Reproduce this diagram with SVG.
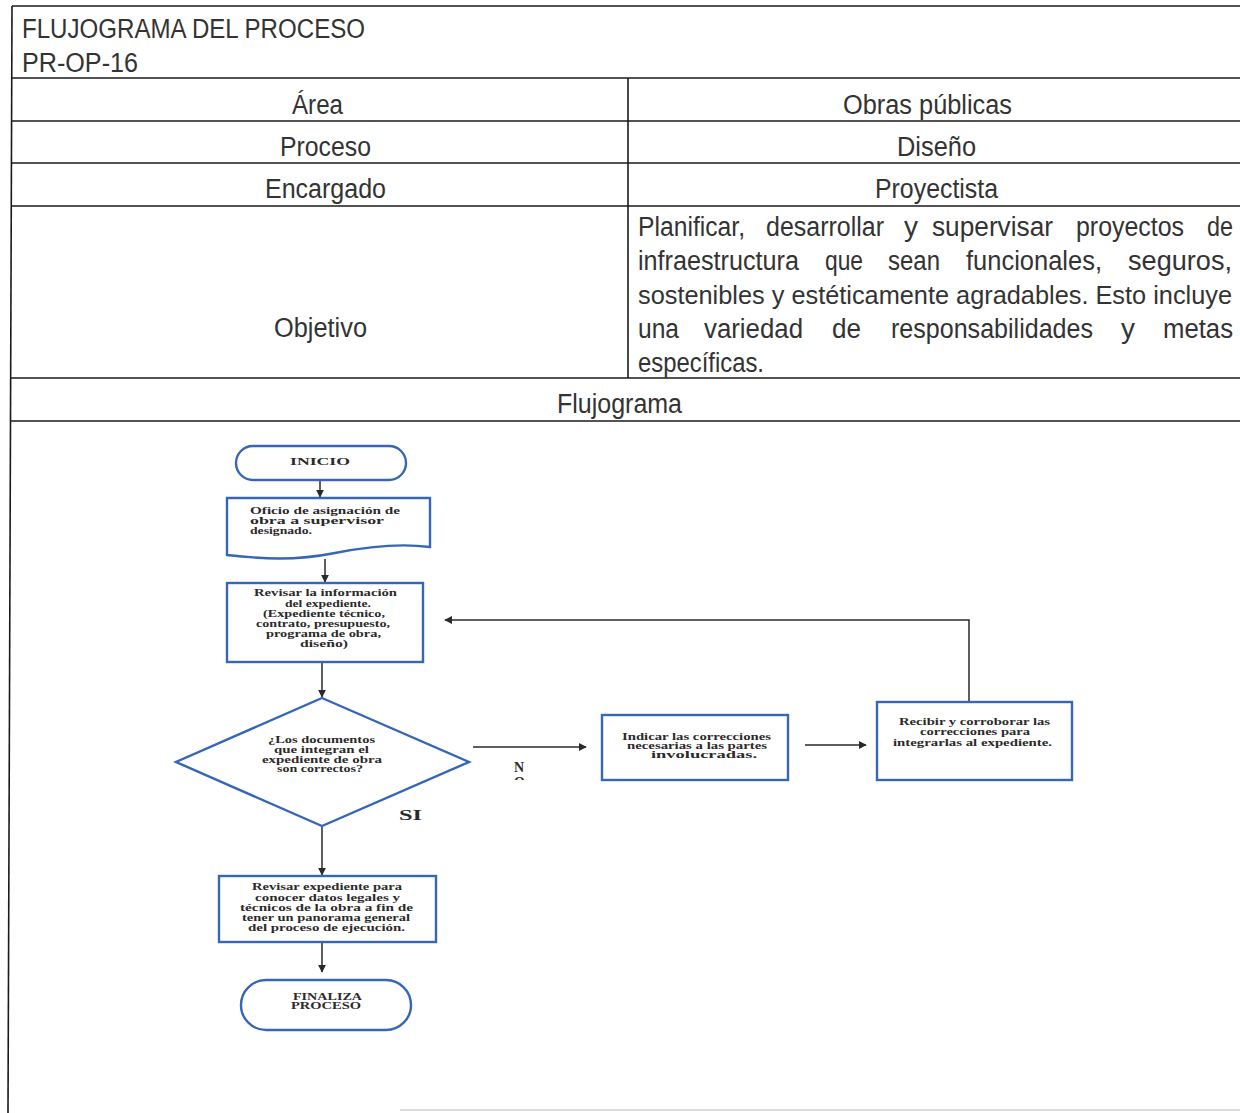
<svg xmlns="http://www.w3.org/2000/svg" width="1240" height="1113" viewBox="0 0 1240 1113">
<defs>
<marker id="ah" viewBox="0 0 10 10" refX="9" refY="5" markerWidth="8" markerHeight="8" markerUnits="userSpaceOnUse" orient="auto">
<path d="M0,0 L10,5 L0,10 Z" fill="#2a2a2a"/>
</marker>
<clipPath id="noclip"><rect x="505" y="755" width="40" height="25"/></clipPath>
</defs>
<style>
.tl{stroke:#1a1a1a;stroke-width:1.6;fill:none}
.tt{font-family:"Liberation Sans",Arial,sans-serif;font-size:27px;fill:#333}
.nd{fill:#fff;stroke:#3566b8;stroke-width:2.4}
.ft{font-family:"Liberation Serif","Times New Roman",serif;font-weight:bold;font-size:9.5px;fill:#2a2a2a}
.lb{font-family:"Liberation Serif","Times New Roman",serif;font-weight:bold;font-size:14px;fill:#2a2a2a}
.cn{stroke:#2a2a2a;stroke-width:1.5;fill:none}
</style>
<rect width="1240" height="1113" fill="#fff"/>
<g id="table">
<line class="tl" x1="12" y1="6" x2="1240" y2="6"/>
<line class="tl" x1="12" y1="6" x2="8" y2="1113"/>
<line class="tl" x1="12" y1="78" x2="1240" y2="78"/>
<line class="tl" x1="12" y1="121" x2="1240" y2="121"/>
<line class="tl" x1="12" y1="163" x2="1240" y2="163"/>
<line class="tl" x1="12" y1="206" x2="1240" y2="206"/>
<line class="tl" x1="11" y1="378" x2="1240" y2="378"/>
<line class="tl" x1="11" y1="421" x2="1240" y2="421"/>
<line class="tl" x1="628" y1="78" x2="628" y2="378"/>
<line x1="400" y1="1110" x2="1240" y2="1110" stroke="#bbb" stroke-width="1.2"/>
<text class="tt" x="22" y="38" textLength="343" lengthAdjust="spacingAndGlyphs">FLUJOGRAMA DEL PROCESO</text>
<text class="tt" x="22" y="72" textLength="116" lengthAdjust="spacingAndGlyphs">PR-OP-16</text>
<text class="tt" x="292" y="114" textLength="51" lengthAdjust="spacingAndGlyphs">Área</text>
<text class="tt" x="843" y="114" textLength="169" lengthAdjust="spacingAndGlyphs">Obras públicas</text>
<text class="tt" x="280" y="156" textLength="91" lengthAdjust="spacingAndGlyphs">Proceso</text>
<text class="tt" x="897" y="156" textLength="79" lengthAdjust="spacingAndGlyphs">Diseño</text>
<text class="tt" x="265" y="198" textLength="121" lengthAdjust="spacingAndGlyphs">Encargado</text>
<text class="tt" x="875" y="198" textLength="123" lengthAdjust="spacingAndGlyphs">Proyectista</text>
<text class="tt" x="274" y="337" textLength="93" lengthAdjust="spacingAndGlyphs">Objetivo</text>
<text class="tt" x="557" y="413" textLength="125" lengthAdjust="spacingAndGlyphs">Flujograma</text>
<text class="tt" x="638" y="236" textLength="107" lengthAdjust="spacingAndGlyphs">Planificar,</text>
<text class="tt" x="766" y="236" textLength="118" lengthAdjust="spacingAndGlyphs">desarrollar</text>
<text class="tt" x="904" y="236" textLength="14" lengthAdjust="spacingAndGlyphs">y</text>
<text class="tt" x="932" y="236" textLength="121" lengthAdjust="spacingAndGlyphs">supervisar</text>
<text class="tt" x="1076" y="236" textLength="108" lengthAdjust="spacingAndGlyphs">proyectos</text>
<text class="tt" x="1207" y="236" textLength="26" lengthAdjust="spacingAndGlyphs">de</text>
<text class="tt" x="638" y="270" textLength="161" lengthAdjust="spacingAndGlyphs">infraestructura</text>
<text class="tt" x="825" y="270" textLength="38" lengthAdjust="spacingAndGlyphs">que</text>
<text class="tt" x="888" y="270" textLength="52" lengthAdjust="spacingAndGlyphs">sean</text>
<text class="tt" x="966" y="270" textLength="136" lengthAdjust="spacingAndGlyphs">funcionales,</text>
<text class="tt" x="1128" y="270" textLength="104" lengthAdjust="spacingAndGlyphs">seguros,</text>
<text class="tt" x="638" y="304" style="font-size:25.3px" textLength="594" lengthAdjust="spacingAndGlyphs">sostenibles y estéticamente agradables. Esto incluye</text>
<text class="tt" x="638" y="338" textLength="41" lengthAdjust="spacingAndGlyphs">una</text>
<text class="tt" x="704" y="338" textLength="99" lengthAdjust="spacingAndGlyphs">variedad</text>
<text class="tt" x="832" y="338" textLength="29" lengthAdjust="spacingAndGlyphs">de</text>
<text class="tt" x="891" y="338" textLength="202" lengthAdjust="spacingAndGlyphs">responsabilidades</text>
<text class="tt" x="1121" y="338" textLength="14" lengthAdjust="spacingAndGlyphs">y</text>
<text class="tt" x="1163" y="338" textLength="70" lengthAdjust="spacingAndGlyphs">metas</text>
<text class="tt" x="638" y="372" textLength="126" lengthAdjust="spacingAndGlyphs">específicas.</text>
</g>
<g id="connectors">
<line class="cn" x1="320" y1="481" x2="320" y2="497" marker-end="url(#ah)"/>
<line class="cn" x1="325" y1="559" x2="325" y2="582" marker-end="url(#ah)"/>
<line class="cn" x1="322" y1="663" x2="322" y2="697" marker-end="url(#ah)"/>
<line class="cn" x1="322" y1="827" x2="322" y2="875" marker-end="url(#ah)"/>
<line class="cn" x1="322" y1="943" x2="322" y2="972" marker-end="url(#ah)"/>
<line class="cn" x1="473" y1="747" x2="586" y2="747" marker-end="url(#ah)"/>
<line class="cn" x1="805" y1="745" x2="866" y2="745" marker-end="url(#ah)"/>
<polyline class="cn" points="969,701 969,620 445,620" marker-end="url(#ah)"/>
<text class="lb" x="399" y="820" textLength="23" lengthAdjust="spacingAndGlyphs">SI</text>
<g clip-path="url(#noclip)">
<text class="lb" x="514" y="772">N</text>
<text class="lb" x="514" y="787">O</text>
</g>
</g>
<g id="n-inicio">
<rect class="nd" x="236" y="446" width="170" height="34" rx="17"/>
<text class="ft" x="290" y="465" textLength="60" lengthAdjust="spacingAndGlyphs">INICIO</text>
</g>
<g id="n-oficio">
<path class="nd" d="M227,498 H430 V547 C400,543 370,546 335,553 C295,561 262,559 227,555 Z"/>
<text class="ft" x="250" y="514" textLength="150" lengthAdjust="spacingAndGlyphs">Oficio de asignación de</text>
<text class="ft" x="250" y="524" textLength="134" lengthAdjust="spacingAndGlyphs">obra a supervisor</text>
<text class="ft" x="250" y="534" textLength="62" lengthAdjust="spacingAndGlyphs">designado.</text>
</g>
<g id="n-revisar">
<rect class="nd" x="227" y="583" width="196" height="79"/>
<text class="ft" x="254" y="596" textLength="143" lengthAdjust="spacingAndGlyphs">Revisar la información</text>
<text class="ft" x="285" y="607" textLength="86" lengthAdjust="spacingAndGlyphs">del expediente.</text>
<text class="ft" x="263" y="617" textLength="122" lengthAdjust="spacingAndGlyphs">(Expediente técnico,</text>
<text class="ft" x="256" y="627" textLength="134" lengthAdjust="spacingAndGlyphs">contrato, presupuesto,</text>
<text class="ft" x="266" y="637" textLength="115" lengthAdjust="spacingAndGlyphs">programa de obra,</text>
<text class="ft" x="300" y="647" textLength="48" lengthAdjust="spacingAndGlyphs">diseño)</text>
</g>
<g id="n-decision">
<polygon class="nd" points="322,698 469,762 322,826 176,762"/>
<text class="ft" x="268" y="743" textLength="107" lengthAdjust="spacingAndGlyphs">¿Los documentos</text>
<text class="ft" x="274" y="753" textLength="95" lengthAdjust="spacingAndGlyphs">que integran el</text>
<text class="ft" x="262" y="763" textLength="120" lengthAdjust="spacingAndGlyphs">expediente de obra</text>
<text class="ft" x="277" y="772" textLength="86" lengthAdjust="spacingAndGlyphs">son correctos?</text>
</g>
<g id="n-indicar">
<rect class="nd" x="602" y="715" width="186" height="65"/>
<text class="ft" x="622" y="740" textLength="149" lengthAdjust="spacingAndGlyphs">Indicar las correcciones</text>
<text class="ft" x="627" y="749" textLength="140" lengthAdjust="spacingAndGlyphs">necesarias a las partes</text>
<text class="ft" x="651" y="758" textLength="106" lengthAdjust="spacingAndGlyphs">involucradas.</text>
</g>
<g id="n-recibir">
<rect class="nd" x="877" y="702" width="195" height="78"/>
<text class="ft" x="899" y="725" textLength="151" lengthAdjust="spacingAndGlyphs">Recibir y corroborar las</text>
<text class="ft" x="920" y="735" textLength="110" lengthAdjust="spacingAndGlyphs">correcciones para</text>
<text class="ft" x="893" y="746" textLength="159" lengthAdjust="spacingAndGlyphs">integrarlas al expediente.</text>
</g>
<g id="n-revisar2">
<rect class="nd" x="219" y="876" width="217" height="66"/>
<text class="ft" x="252" y="890" textLength="150" lengthAdjust="spacingAndGlyphs">Revisar expediente para</text>
<text class="ft" x="255" y="901" textLength="145" lengthAdjust="spacingAndGlyphs">conocer datos legales y</text>
<text class="ft" x="240" y="911" textLength="173" lengthAdjust="spacingAndGlyphs">técnicos de la obra a fin de</text>
<text class="ft" x="242" y="921" textLength="168" lengthAdjust="spacingAndGlyphs">tener un panorama general</text>
<text class="ft" x="248" y="931" textLength="157" lengthAdjust="spacingAndGlyphs">del proceso de ejecución.</text>
</g>
<g id="n-fin">
<rect class="nd" x="241" y="980" width="170" height="50" rx="25"/>
<text class="ft" x="293" y="1000" textLength="69" lengthAdjust="spacingAndGlyphs">FINALIZA</text>
<text class="ft" x="291" y="1009" textLength="70" lengthAdjust="spacingAndGlyphs">PROCESO</text>
</g>
</svg>
